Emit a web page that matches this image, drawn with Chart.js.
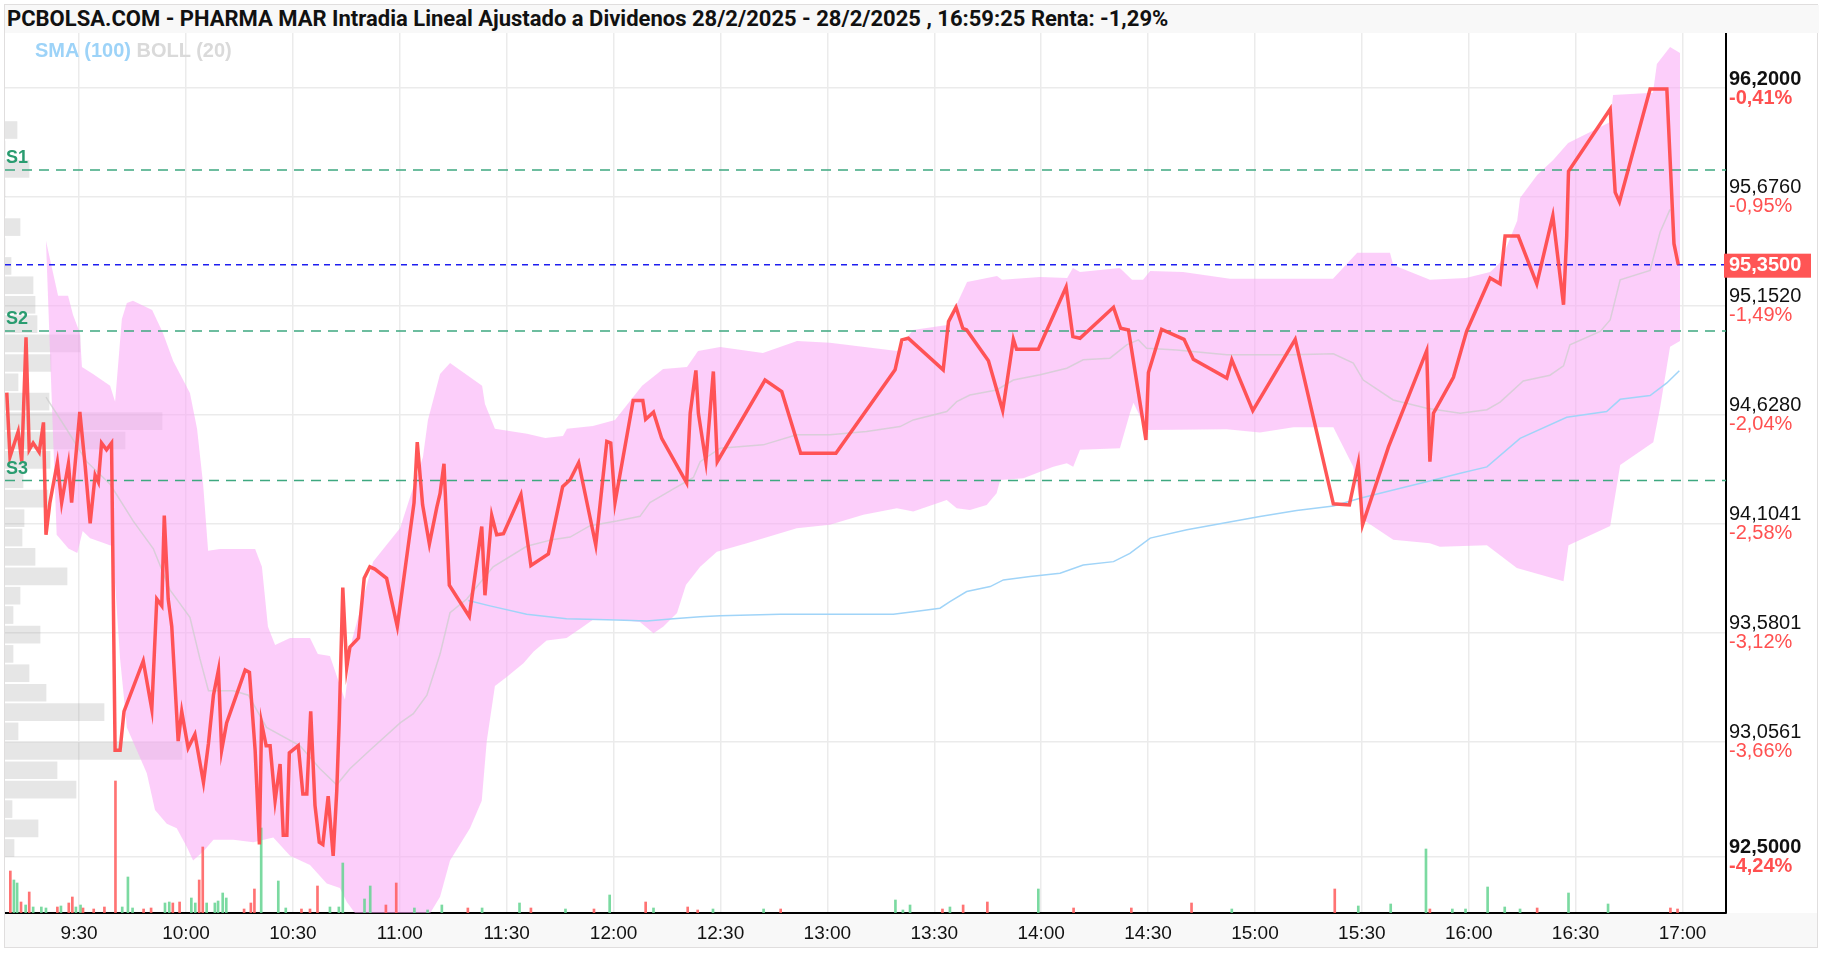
<!DOCTYPE html>
<html>
<head>
<meta charset="utf-8">
<script src="https://cdn.jsdelivr.net/npm/chart.js@4.4.1/dist/chart.umd.min.js"></script>
<style>
  html, body { margin: 0; padding: 0; background: #fff; }
  #frame { position: absolute; left: 4px; top: 4px; width: 1814px; height: 944px; box-sizing: border-box; border: 1px solid #e0dede; }
  #title { position: absolute; left: 0; top: 0; width: 100%; height: 28px; background: #f8f8f8; color: #111;
           font: bold 22px Roboto, sans-serif; line-height: 28px; padding-left: 2px; white-space: nowrap; }
  #legend { position: absolute; left: 30px; top: 34px; z-index: 2; font: bold 20px "Liberation Sans", Arial, sans-serif; }
  #chartBox { position: absolute; left: 0; top: 28px; width: 1812px; height: 914px; }
</style>
</head>
<body>
<div id="frame">
  <div id="title">PCBOLSA.COM - PHARMA MAR Intradia Lineal Ajustado a Dividenos 28/2/2025 - 28/2/2025 , 16:59:25 Renta: -1,29%</div>
  <div id="chartBox"><canvas id="myChart"></canvas></div>
  <div id="legend"><span style="color:#9dd3f8">SMA (100)</span> <span style="color:#dadada">BOLL (20)</span></div>
</div>
<script>
// times are minutes after midnight, prices in euros

const xTickLabels = ["9:30", "10:00", "10:30", "11:00", "11:30", "12:00", "12:30", "13:00",
  "13:30", "14:00", "14:30", "15:00", "15:30", "16:00", "16:30", "17:00"];
const yTickValues = [92.5, 93.0561, 93.5801, 94.1041, 94.628, 95.152, 95.676, 96.2];
const yTickPct = ["-4,24%", "-3,66%", "-3,12%", "-2,58%", "-2,04%", "-1,49%", "-0,95%", "-0,41%"];

const lastPrice = 95.35;
const supports = [["S1", 95.806], ["S2", 95.031], ["S3", 94.311]];

const price = [
  [549.7, 94.734], [550.6, 94.425], [552.9, 94.547], [553.9, 94.403], [555.1, 95.0], [556.0, 94.459],
  [557.1, 94.492], [558.8, 94.448], [560.0, 94.591], [560.7, 94.05], [561.8, 94.205], [563.9, 94.399],
  [565.1, 94.205], [567.0, 94.392], [567.9, 94.205], [570.2, 94.642], [571.7, 94.381], [573.1, 94.105],
  [574.5, 94.337], [575.4, 94.304], [576.3, 94.492], [577.7, 94.459], [579.1, 94.492], [580.1, 93.013],
  [581.5, 93.013], [582.6, 93.2], [588.0, 93.443], [590.4, 93.211], [591.8, 93.741], [593.2, 93.708],
  [593.9, 94.143], [595.0, 93.741], [596.0, 93.609], [597.8, 93.057], [598.8, 93.2], [600.6, 93.024],
  [602.5, 93.09], [604.9, 92.858], [606.3, 93.046], [607.7, 93.278], [609.1, 93.399], [610.0, 93.013],
  [611.4, 93.145], [616.6, 93.399], [617.8, 93.388], [619.4, 93.013], [620.6, 92.56], [621.2, 93.145],
  [622.5, 93.035], [623.6, 93.035], [625.0, 92.77], [626.4, 92.947], [627.3, 92.604], [628.3, 92.604],
  [629.0, 93.001], [631.5, 93.035], [632.8, 92.803], [633.9, 92.803], [635.0, 93.2], [636.2, 92.748],
  [637.4, 92.571], [638.4, 92.56], [639.9, 92.792], [641.3, 92.505], [642.3, 92.814], [643.0, 93.156],
  [644.0, 93.796], [645.1, 93.41], [646.0, 93.51], [648.4, 93.553], [650.0, 93.841], [651.6, 93.896],
  [653.0, 93.885], [656.3, 93.841], [659.3, 93.609], [664.0, 94.205], [664.9, 94.496], [666.4, 94.194],
  [668.3, 94.006], [670.4, 94.183], [671.3, 94.249], [672.4, 94.392], [673.9, 93.808], [679.5, 93.657],
  [683.0, 94.09], [683.9, 93.759], [685.8, 94.143], [687.2, 94.05], [689.1, 94.055], [694.0, 94.244],
  [696.8, 93.902], [701.7, 93.958], [705.7, 94.282], [707.8, 94.315], [710.2, 94.397], [715.0, 94.001],
  [718.1, 94.499], [719.2, 94.492], [720.4, 94.205], [725.5, 94.697], [728.2, 94.697], [729.0, 94.606],
  [731.2, 94.64], [733.5, 94.514], [740.5, 94.3], [741.5, 94.635], [743.1, 94.841], [743.8, 94.635],
  [745.9, 94.402], [748.0, 94.836], [749.1, 94.402], [762.5, 94.795], [767.2, 94.739], [772.5, 94.443],
  [782.4, 94.443], [799.0, 94.844], [800.9, 94.988], [802.7, 94.996], [812.5, 94.844], [814.0, 95.076],
  [816.1, 95.145], [818.0, 95.044], [819.1, 95.036], [825.2, 94.888], [829.2, 94.648], [832.2, 94.991],
  [833.1, 94.943], [839.2, 94.943], [847.0, 95.242], [848.9, 95.004], [850.9, 94.996], [860.3, 95.145],
  [862.3, 95.044], [864.5, 95.036], [869.4, 94.507], [870.1, 94.831], [873.8, 95.039], [880.1, 94.991],
  [882.7, 94.895], [892.1, 94.804], [893.5, 94.892], [899.4, 94.648], [911.3, 94.991], [922.0, 94.199],
  [926.5, 94.194], [929.0, 94.395], [930.2, 94.098], [937.5, 94.474], [948.2, 94.936], [949.1, 94.402],
  [950.1, 94.635], [955.7, 94.808], [959.4, 95.029], [966.0, 95.286], [968.8, 95.258], [970.2, 95.488],
  [973.9, 95.488], [979.1, 95.258], [983.6, 95.585], [986.6, 95.157], [987.5, 95.488], [988.0, 95.8],
  [999.7, 96.099], [1001.1, 95.698], [1002.3, 95.652], [1010.9, 96.195], [1015.6, 96.195], [1017.6, 95.451],
  [1018.8, 95.35]
];

const bollUpper = [
  [560.7, 95.464], [564.1, 95.2], [566.9, 95.2], [568.3, 95.108], [570.2, 95.022], [570.8, 94.858],
  [573.9, 94.824], [578.7, 94.767], [580.1, 94.69], [582.0, 95.089], [583.4, 95.166], [585.1, 95.176],
  [590.5, 95.132], [593.5, 95.022], [596.4, 94.887], [601.1, 94.733], [603.1, 94.56], [604.8, 94.295],
  [606.2, 93.973], [609.5, 93.982], [619.4, 93.982], [621.3, 93.896], [623.0, 93.607], [625.0, 93.52],
  [629.2, 93.554], [634.8, 93.554], [637.0, 93.477], [640.4, 93.467], [642.4, 93.366], [644.6, 93.256],
  [646.6, 93.544], [652.5, 93.92], [660.1, 94.083], [666.5, 94.425], [667.9, 94.603], [671.3, 94.824],
  [674.1, 94.877], [683.1, 94.767], [683.9, 94.68], [686.7, 94.56], [695.7, 94.536], [700.8, 94.516],
  [705.8, 94.526], [706.9, 94.56], [714.2, 94.574], [720.4, 94.603], [728.0, 94.767], [733.9, 94.848],
  [740.6, 94.858], [743.7, 94.935], [749.9, 94.954], [761.9, 94.925], [771.5, 94.983], [780.7, 94.974],
  [799.6, 94.935], [804.0, 95.036], [813.6, 95.06], [819.2, 95.267], [827.6, 95.296], [829.0, 95.277],
  [839.7, 95.291], [847.3, 95.286], [848.9, 95.334], [850.9, 95.315], [862.1, 95.334], [865.5, 95.277],
  [868.6, 95.277], [870.6, 95.32], [879.8, 95.315], [893.0, 95.282], [921.9, 95.282], [928.7, 95.407],
  [937.9, 95.407], [938.8, 95.349], [949.1, 95.277], [959.2, 95.286], [966.0, 95.315], [968.8, 95.359],
  [973.6, 95.561], [974.4, 95.671], [979.2, 95.782], [983.7, 95.854], [987.9, 95.936], [999.7, 96.037],
  [1000.5, 96.167], [1011.7, 96.177], [1012.8, 96.316], [1016.5, 96.398], [1019.3, 96.369]
];

const bollLower = [
  [560.7, 95.464], [563.7, 94.05], [567.0, 93.984], [569.5, 93.962], [571.0, 94.068], [573.1, 94.033],
  [575.9, 94.017], [579.4, 93.995], [581.5, 93.454], [583.4, 93.123], [586.2, 93.013], [589.0, 92.902],
  [591.3, 92.726], [594.6, 92.659], [597.4, 92.638], [600.2, 92.549], [602.0, 92.483], [604.9, 92.527],
  [607.7, 92.582], [613.3, 92.582], [618.9, 92.571], [624.5, 92.593], [629.2, 92.505], [634.8, 92.461],
  [639.5, 92.372], [643.2, 92.35], [645.1, 92.284], [648.8, 92.197], [654.4, 92.101], [665.7, 92.149],
  [671.3, 92.308], [674.1, 92.483], [679.7, 92.638], [683.0, 92.77], [684.4, 93.057], [686.7, 93.322],
  [690.0, 93.366], [694.7, 93.432], [697.5, 93.487], [701.2, 93.542], [706.8, 93.553], [710.6, 93.598],
  [714.3, 93.642], [720.9, 93.642], [727.4, 93.631], [731.2, 93.576], [734.0, 93.609], [737.8, 93.674],
  [740.3, 93.809], [744.3, 93.896], [749.0, 93.969], [757.4, 94.01], [771.4, 94.082], [780.7, 94.098],
  [790.1, 94.146], [799.5, 94.178], [804.1, 94.162], [813.5, 94.218], [816.3, 94.178], [820.0, 94.17],
  [824.7, 94.194], [827.5, 94.25], [828.5, 94.314], [835.0, 94.322], [843.4, 94.378], [847.2, 94.395],
  [849.0, 94.378], [850.9, 94.459], [862.1, 94.467], [864.9, 94.635], [865.9, 94.686], [869.6, 94.555],
  [892.1, 94.558], [901.4, 94.542], [910.8, 94.568], [922.0, 94.568], [927.6, 94.378], [930.4, 94.122],
  [938.8, 94.026], [949.1, 94.01], [951.9, 93.993], [965.1, 94.0], [973.5, 93.89], [986.6, 93.826],
  [988.0, 94.0], [999.7, 94.092], [1002.5, 94.386], [1011.8, 94.496], [1013.7, 94.661], [1016.5, 94.955],
  [1019.3, 94.983]
];

const bollMid = [
  [560.7, 94.713], [566.5, 94.558], [572.1, 94.403], [578.7, 94.293], [585.2, 94.116], [590.8, 93.984],
  [595.5, 93.785], [601.1, 93.653], [603.9, 93.454], [606.3, 93.3], [613.3, 93.3], [617.5, 93.278],
  [622.6, 93.123], [632.0, 93.035], [637.6, 92.924], [642.3, 92.847], [646.0, 92.924], [651.6, 93.013],
  [660.1, 93.145], [663.8, 93.189], [667.6, 93.278], [671.3, 93.476], [674.1, 93.675], [678.8, 93.741],
  [686.2, 93.896], [695.6, 93.995], [703.1, 94.028], [707.8, 94.039], [713.4, 94.094], [720.9, 94.116],
  [727.4, 94.139], [730.2, 94.205], [736.8, 94.271], [742.4, 94.326], [744.3, 94.402], [749.9, 94.467],
  [762.0, 94.483], [771.4, 94.531], [780.7, 94.531], [791.0, 94.547], [800.4, 94.571], [804.1, 94.603],
  [813.5, 94.643], [816.3, 94.691], [820.0, 94.723], [827.5, 94.747], [832.2, 94.795], [839.7, 94.82],
  [847.2, 94.852], [851.8, 94.892], [859.3, 94.9], [864.0, 94.964], [867.3, 94.988], [869.6, 94.948],
  [878.0, 94.94], [892.1, 94.916], [910.8, 94.916], [922.0, 94.921], [927.6, 94.876], [930.4, 94.795],
  [938.8, 94.699], [948.2, 94.659], [957.6, 94.635], [965.1, 94.652], [968.8, 94.689], [975.3, 94.79],
  [982.8, 94.818], [986.6, 94.863], [988.4, 94.964], [996.9, 95.029], [999.7, 95.084], [1002.5, 95.277],
  [1010.9, 95.322], [1013.7, 95.506], [1016.5, 95.616]
];

const sma100 = [
  [679.2, 93.734], [685.3, 93.708], [695.6, 93.668], [706.8, 93.646], [720.9, 93.64], [729.3, 93.635],
  [736.8, 93.646], [744.3, 93.656], [749.9, 93.66], [766.7, 93.668], [798.5, 93.668], [804.1, 93.68],
  [811.6, 93.697], [814.4, 93.729], [819.1, 93.777], [825.7, 93.801], [829.4, 93.833], [836.9, 93.849],
  [845.3, 93.865], [851.8, 93.905], [860.3, 93.921], [864.9, 93.961], [870.6, 94.034], [880.9, 94.074],
  [892.1, 94.109], [901.4, 94.138], [911.7, 94.167], [922.0, 94.189], [929.5, 94.226], [938.8, 94.266],
  [948.2, 94.305], [957.6, 94.346], [965.1, 94.377], [974.4, 94.514], [987.5, 94.616], [998.7, 94.643],
  [1002.5, 94.702], [1010.9, 94.72], [1015.6, 94.781], [1019.1, 94.84]
];

// [time, volume, "u" up / "d" down]
const volume = [
  [550.7, 42, "d"], [551.7, 33, "u"], [552.6, 30, "u"], [553.7, 11, "d"], [555.0, 8, "u"], [556.0, 21, "d"],
  [557.1, 6, "u"], [559.4, 6, "u"], [560.7, 5, "u"], [563.9, 6, "d"], [564.9, 7, "u"], [567.1, 10, "d"],
  [568.1, 16, "d"], [569.1, 6, "u"], [570.4, 8, "u"], [571.1, 5, "d"], [574.1, 4, "d"], [577.1, 6, "d"],
  [580.2, 132, "d"], [582.1, 6, "u"], [583.7, 36, "u"], [585.0, 5, "u"], [588.1, 4, "d"], [590.2, 5, "d"],
  [594.1, 10, "u"], [595.3, 11, "u"], [596.3, 10, "d"], [598.2, 11, "d"], [601.5, 15, "u"], [602.6, 10, "u"],
  [603.7, 33, "d"], [604.7, 66, "d"], [605.8, 10, "u"], [608.1, 10, "u"], [609.0, 12, "u"], [610.3, 20, "u"],
  [611.3, 15, "u"], [616.3, 4, "d"], [618.2, 10, "d"], [619.2, 24, "d"], [621.1, 85, "u"], [625.9, 32, "u"],
  [628.0, 5, "u"], [632.4, 4, "d"], [634.8, 4, "d"], [636.9, 27, "d"], [640.4, 6, "u"], [642.9, 6, "u"],
  [644.0, 50, "u"], [650.1, 14, "u"], [651.7, 27, "u"], [656.1, 8, "d"], [659.0, 30, "d"], [664.1, 5, "u"],
  [667.8, 3, "u"], [671.8, 8, "u"], [679.1, 5, "d"], [683.1, 5, "u"], [693.6, 10, "u"], [696.8, 5, "d"],
  [706.5, 4, "u"], [714.5, 4, "d"], [718.9, 18, "u"], [729.0, 11, "d"], [731.2, 5, "u"], [740.8, 6, "d"],
  [743.6, 3, "d"], [747.9, 4, "u"], [762.1, 4, "u"], [766.9, 4, "d"], [799.1, 13, "u"], [801.2, 3, "u"],
  [803.2, 8, "u"], [812.3, 4, "d"], [814.4, 6, "u"], [818.1, 8, "d"], [824.9, 11, "d"], [839.2, 24, "u"],
  [849.1, 5, "d"], [865.3, 5, "d"], [882.2, 10, "d"], [893.5, 4, "u"], [922.4, 24, "d"], [929.0, 7, "u"],
  [938.1, 9, "u"], [948.0, 64, "u"], [949.1, 4, "d"], [955.4, 4, "u"], [959.1, 4, "u"], [965.3, 26, "u"],
  [970.1, 6, "u"], [974.4, 4, "u"], [979.2, 5, "d"], [988.0, 20, "u"], [999.1, 9, "u"], [1016.6, 5, "d"],
  [1018.6, 4, "d"]
];

// volume at price, left side profile
const profilePrices = [92.543, 92.637, 92.730, 92.824, 92.917, 93.010, 93.104, 93.197, 93.290, 93.384,
  93.477, 93.570, 93.664, 93.757, 93.850, 93.944, 94.037, 94.130, 94.224, 94.317, 94.411, 94.504, 94.597,
  94.691, 94.784, 94.877, 94.971, 95.064, 95.157, 95.251, 95.344, 95.437, 95.531, 95.624, 95.717, 95.811,
  95.904, 95.998];
const profileVolume = [9, 33, 7, 71, 52, 177, 13, 99, 41, 24, 8, 35, 8, 15, 62, 30, 17, 19, 43, 18, 45, 120,
  157, 44, 13, 46, 75, 32, 30, 28, 6, 0, 15, 0, 0, 24, 0, 12];

const xMin = 549.2, xMax = 1032.2;
const yMin = 92.23, yMax = 96.465;

const FONT = '"Liberation Sans", Arial, sans-serif';
const toMinutes = (s) => { const [h, m] = s.split(":").map(Number); return h * 60 + m; };
const fmt = (v) => v.toFixed(4).replace(".", ",");
const toXY = (pairs) => pairs.map(([x, y]) => ({ x, y }));
const flat = (v) => [{ x: xMin, y: v }, { x: xMax, y: v }];

const priceLine = {
  type: "line", label: "Precio", data: toXY(price), order: 1,
  borderColor: "rgba(255, 72, 72, 0.92)", borderWidth: 3.5, pointRadius: 0, tension: 0,
};
const upper = {
  type: "line", label: "BOLL sup", data: toXY(bollUpper), order: 8,
  borderColor: "rgba(0,0,0,0)", borderWidth: 1, pointRadius: 0, fill: false,
};
const lower = {
  type: "line", label: "BOLL inf", data: toXY(bollLower), order: 8,
  borderColor: "rgba(0,0,0,0)", borderWidth: 1, pointRadius: 0,
  fill: "-1", backgroundColor: "rgba(249, 165, 245, 0.55)",
};
const middle = {
  type: "line", label: "BOLL (20)", data: toXY(bollMid), order: 7,
  borderColor: "rgba(205, 205, 205, 0.75)", borderWidth: 1.5, pointRadius: 0,
};
const sma = {
  type: "line", label: "SMA (100)", data: toXY(sma100), order: 6,
  borderColor: "rgb(160, 212, 248)", borderWidth: 1.5, pointRadius: 0,
};
const supportLines = supports.map(([name, v]) => ({
  type: "line", label: name, data: flat(v), order: 5,
  borderColor: "rgb(62, 168, 128)", borderWidth: 1.5, borderDash: [10, 7], pointRadius: 0,
}));
const lastLine = {
  type: "line", label: "Último", data: flat(lastPrice), order: 5,
  borderColor: "rgb(30, 30, 240)", borderWidth: 1.5, borderDash: [6, 5], pointRadius: 0,
};
const volBars = {
  type: "bar", label: "Volumen", yAxisID: "yv", order: 4, grouped: false,
  data: volume.map(([x, y]) => ({ x, y })),
  backgroundColor: volume.map((d) => (d[2] === "u" ? "rgba(100, 212, 145, 0.85)" : "rgba(255, 90, 90, 0.85)")),
  barThickness: 2,
};
const profileBars = {
  type: "bar", label: "Perfil", indexAxis: "y", xAxisID: "xp", yAxisID: "y", order: 9, grouped: false,
  data: profilePrices.map((p, i) => ({ x: profileVolume[i], y: p })),
  backgroundColor: "rgba(150, 150, 150, 0.24)", barThickness: 17,
};

const datasets = [priceLine, upper, lower, middle, sma, ...supportLines, lastLine, volBars, profileBars];

const overlay = {
  id: "overlay",
  beforeDraw(chart) {
    const { ctx, chartArea: a, width, height } = chart;
    ctx.save();
    ctx.fillStyle = "#fff";
    ctx.fillRect(0, 0, width, height);
    ctx.fillStyle = "#f8f8f8";
    ctx.fillRect(0, a.bottom, width, height - a.bottom);
    ctx.restore();
  },
  afterDraw(chart) {
    const { ctx, chartArea: a, scales: { y } } = chart;
    ctx.save();
    ctx.textAlign = "left";
    ctx.textBaseline = "middle";
    yTickValues.forEach((v, i) => {
      const py = y.getPixelForValue(v);
      const strong = i === 0 || i === yTickValues.length - 1 ? "bold " : "";
      ctx.font = strong + "20px " + FONT;
      ctx.fillStyle = "#111";
      ctx.fillText(fmt(v), a.right + 3, py - 9);
      ctx.fillStyle = "rgb(255, 80, 80)";
      ctx.fillText(yTickPct[i], a.right + 3, py + 10);
    });
    // last price tag
    const pl = y.getPixelForValue(lastPrice);
    ctx.fillStyle = "rgb(255, 85, 85)";
    ctx.fillRect(a.right - 2, pl - 11, 87, 24);
    ctx.fillStyle = "#fff";
    ctx.font = "bold 20px " + FONT;
    ctx.fillText(fmt(lastPrice), a.right + 3, pl + 1);
    // support labels
    ctx.fillStyle = "rgb(42, 156, 112)";
    ctx.font = "bold 18px " + FONT;
    supports.forEach(([name, v]) => ctx.fillText(name, a.left + 1, y.getPixelForValue(v) - 12));
    ctx.restore();
  },
};

const config = {
  type: "line",
  data: { datasets: datasets },
  options: {
    responsive: true,
    maintainAspectRatio: false,
    animation: false,
    layout: { padding: 0 },
    plugins: { legend: { display: false }, tooltip: { enabled: false } },
    scales: {
      x: {
        type: "linear", position: "bottom", min: xMin, max: xMax, offset: false,
        grid: { color: "#ebebeb", lineWidth: 1.5, drawTicks: false, offset: false },
        border: { color: "#000", width: 2 },
        afterBuildTicks: (s) => { s.ticks = xTickLabels.map((t) => ({ value: toMinutes(t) })); },
        afterFit: (s) => { s.height = 34; },
        ticks: {
          autoSkip: false, maxRotation: 0, padding: 9, color: "#111",
          font: { size: 19, family: FONT },
          callback: (v, i) => xTickLabels[i],
        },
      },
      y: {
        type: "linear", position: "right", min: yMin, max: yMax, offset: false,
        grid: { color: "#ebebeb", lineWidth: 1.5, drawTicks: false, offset: false },
        border: { color: "#000", width: 2 },
        afterBuildTicks: (s) => { s.ticks = yTickValues.map((v) => ({ value: v })); },
        afterFit: (s) => { s.width = 91; },
        ticks: { display: false },
      },
      yv: { type: "linear", display: false, min: 0, max: 880, offset: false },
      xp: { type: "linear", display: false, min: 0, max: 1721, offset: false },
    },
  },
  plugins: [overlay],
};

const chart = new Chart(document.querySelector("#myChart"), config);
</script>
</body>
</html>
